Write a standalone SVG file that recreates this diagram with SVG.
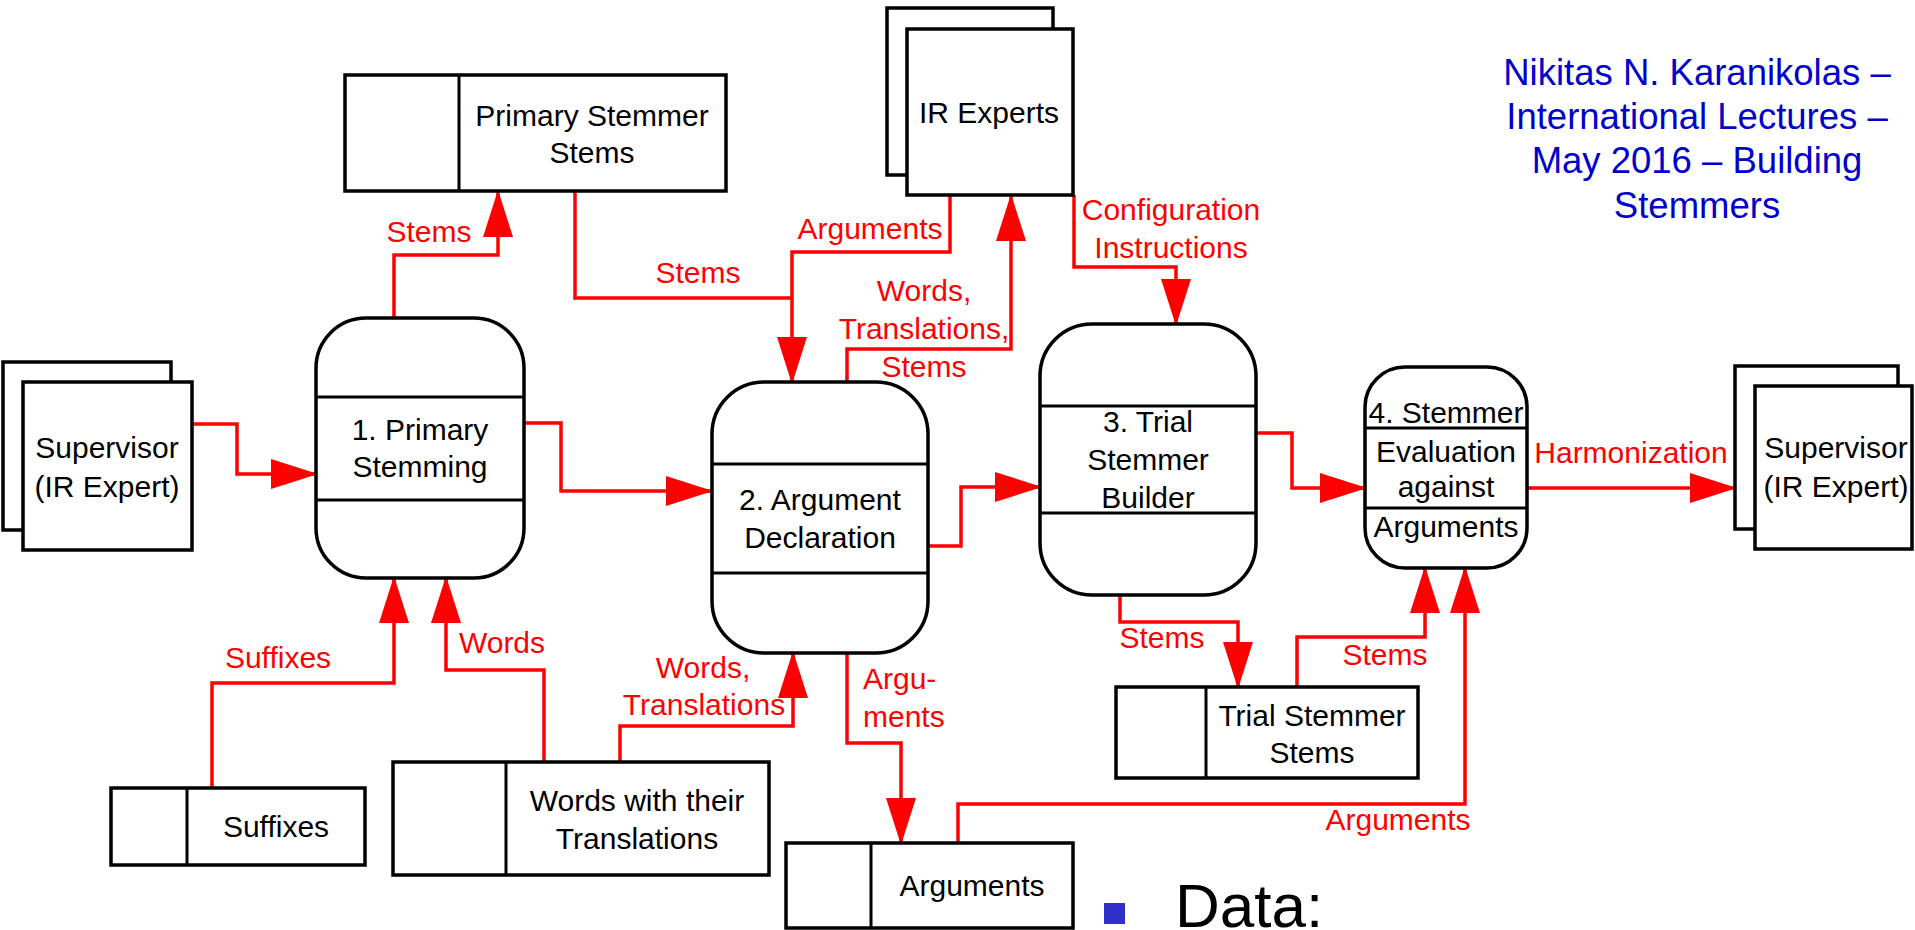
<svg xmlns="http://www.w3.org/2000/svg" width="1915" height="930" viewBox="0 0 1915 930">
<defs>
<style>
.box{fill:#fff;stroke:#000;stroke-width:3.5}
.div{stroke:#000;stroke-width:3;fill:none}
.lbl{font-family:"Liberation Sans",Arial,sans-serif;font-size:30px;fill:#000;text-anchor:middle}
.rl{font-family:"Liberation Sans",Arial,sans-serif;font-size:30px;fill:#ff0000;text-anchor:middle}
.flow{fill:none;stroke:#ff0000;stroke-width:3.5;marker-end:url(#arr)}
.flow2{fill:none;stroke:#ff0000;stroke-width:3.5}
.title{font-family:"Liberation Sans",Arial,sans-serif;font-size:36.5px;fill:#0000cc;text-anchor:middle}
</style>
<marker id="arr" markerUnits="userSpaceOnUse" viewBox="0 0 47 30" markerWidth="47" markerHeight="30" refX="47" refY="15" orient="auto">
<path d="M0,0 L47,15 L0,30 Z" fill="#ff0000"/>
</marker>
</defs>
<rect width="1915" height="930" fill="#fff"/>

<g id="title">
<text class="title" x="1697" y="85">Nikitas N. Karanikolas –</text>
<text class="title" x="1697" y="129">International Lectures –</text>
<text class="title" x="1697" y="173">May 2016 – Building</text>
<text class="title" x="1697" y="218">Stemmers</text>
</g>

<g id="connectors">
<path class="flow" d="M394,318 V255 H498 V190"/>
<path class="flow2" d="M575,191 V298 H792"/>
<path class="flow" d="M950,195 V252 H792 V384"/>
<path class="flow" d="M847,382 V349 H1011 V194"/>
<path class="flow" d="M1074,195 V267 H1176 V326"/>
<path class="flow" d="M192,424 H237 V474 H318"/>
<path class="flow" d="M524,423 H561 V491 H713"/>
<path class="flow" d="M928,546 H961 V487 H1042"/>
<path class="flow" d="M1256,433 H1292 V488 H1367"/>
<path class="flow" d="M1527,488 H1737"/>
<path class="flow" d="M212,788 V683 H394 V576"/>
<path class="flow" d="M544,762 V670 H446 V576"/>
<path class="flow" d="M620,762 V726 H793 V651"/>
<path class="flow" d="M847,653 V743 H901 V845"/>
<path class="flow" d="M1120,595 V622 H1238 V689"/>
<path class="flow" d="M1297,687 V637 H1425 V566"/>
<path class="flow" d="M958,843 V804 H1465 V566"/>
<text class="rl" x="429" y="242">Stems</text>
<text class="rl" x="698" y="283">Stems</text>
<text class="rl" x="870" y="239">Arguments</text>
<text class="rl" x="924" y="301">Words,</text>
<text class="rl" x="924" y="339">Translations,</text>
<text class="rl" x="924" y="377">Stems</text>
<text class="rl" x="1171" y="220">Configuration</text>
<text class="rl" x="1171" y="258">Instructions</text>
<text class="rl" x="1631" y="463">Harmonization</text>
<text class="rl" x="278" y="668">Suffixes</text>
<text class="rl" x="502" y="653">Words</text>
<text class="rl" x="703" y="678">Words,</text>
<text class="rl" x="704" y="715">Translations</text>
<text class="rl" x="863" y="689" style="text-anchor:start">Argu-</text>
<text class="rl" x="863" y="727" style="text-anchor:start">ments</text>
<text class="rl" x="1162" y="648">Stems</text>
<text class="rl" x="1385" y="665">Stems</text>
<text class="rl" x="1398" y="830">Arguments</text>
</g>

<g id="primary-stemmer-stems">
<rect class="box" x="345" y="75" width="381" height="116"/>
<line class="div" x1="459" y1="75" x2="459" y2="191"/>
<text class="lbl" x="592" y="126">Primary Stemmer</text>
<text class="lbl" x="592" y="163">Stems</text>
</g>

<g id="ir-experts">
<rect class="box" x="887" y="8" width="166" height="167"/>
<rect class="box" x="907" y="29" width="166" height="166"/>
<text class="lbl" x="989" y="123">IR Experts</text>
</g>

<g id="supervisor-left">
<rect class="box" x="3" y="362" width="168" height="168"/>
<rect class="box" x="23" y="382" width="169" height="168"/>
<text class="lbl" x="107" y="458">Supervisor</text>
<text class="lbl" x="107" y="497">(IR Expert)</text>
</g>

<g id="process-1">
<rect class="box" x="316" y="318" width="208" height="260" rx="50" ry="50"/>
<line class="div" x1="316" y1="397" x2="524" y2="397"/>
<line class="div" x1="316" y1="500" x2="524" y2="500"/>
<text class="lbl" x="420" y="440">1. Primary</text>
<text class="lbl" x="420" y="477">Stemming</text>
</g>

<g id="process-2">
<rect class="box" x="712" y="382" width="216" height="271" rx="52" ry="52"/>
<line class="div" x1="712" y1="464" x2="928" y2="464"/>
<line class="div" x1="712" y1="573" x2="928" y2="573"/>
<text class="lbl" x="820" y="510">2. Argument</text>
<text class="lbl" x="820" y="548">Declaration</text>
</g>

<g id="process-3">
<rect class="box" x="1040" y="324" width="216" height="271" rx="52" ry="52"/>
<line class="div" x1="1040" y1="406" x2="1256" y2="406"/>
<line class="div" x1="1040" y1="513" x2="1256" y2="513"/>
<text class="lbl" x="1148" y="432">3. Trial</text>
<text class="lbl" x="1148" y="470">Stemmer</text>
<text class="lbl" x="1148" y="508">Builder</text>
</g>

<g id="process-4">
<rect class="box" x="1365" y="367" width="162" height="201" rx="40" ry="40"/>
<line class="div" x1="1365" y1="428" x2="1527" y2="428"/>
<line class="div" x1="1365" y1="508" x2="1527" y2="508"/>
<text class="lbl" x="1446" y="423">4. Stemmer</text>
<text class="lbl" x="1446" y="462">Evaluation</text>
<text class="lbl" x="1446" y="497">against</text>
<text class="lbl" x="1446" y="537">Arguments</text>
</g>

<g id="supervisor-right">
<rect class="box" x="1735" y="366" width="163" height="163"/>
<rect class="box" x="1755" y="386" width="157" height="163"/>
<text class="lbl" x="1836" y="458">Supervisor</text>
<text class="lbl" x="1836" y="497">(IR Expert)</text>
</g>

<g id="suffixes">
<rect class="box" x="111" y="788" width="254" height="77"/>
<line class="div" x1="187" y1="788" x2="187" y2="865"/>
<text class="lbl" x="276" y="837">Suffixes</text>
</g>

<g id="words-translations">
<rect class="box" x="393" y="762" width="376" height="113"/>
<line class="div" x1="506" y1="762" x2="506" y2="875"/>
<text class="lbl" x="637" y="811">Words with their</text>
<text class="lbl" x="637" y="849">Translations</text>
</g>

<g id="arguments-store">
<rect class="box" x="786" y="843" width="287" height="85"/>
<line class="div" x1="871" y1="843" x2="871" y2="928"/>
<text class="lbl" x="972" y="896">Arguments</text>
</g>

<g id="trial-stemmer-stems">
<rect class="box" x="1116" y="687" width="302" height="91"/>
<line class="div" x1="1206" y1="687" x2="1206" y2="778"/>
<text class="lbl" x="1312" y="726">Trial Stemmer</text>
<text class="lbl" x="1312" y="763">Stems</text>
</g>

<g id="data-bullet">
<rect x="1104" y="903" width="21" height="21" fill="#3030c8"/>
<text x="1175" y="927" style="font-family:'Liberation Sans',Arial,sans-serif;font-size:62px;fill:#000">Data:</text>
</g>
</svg>
